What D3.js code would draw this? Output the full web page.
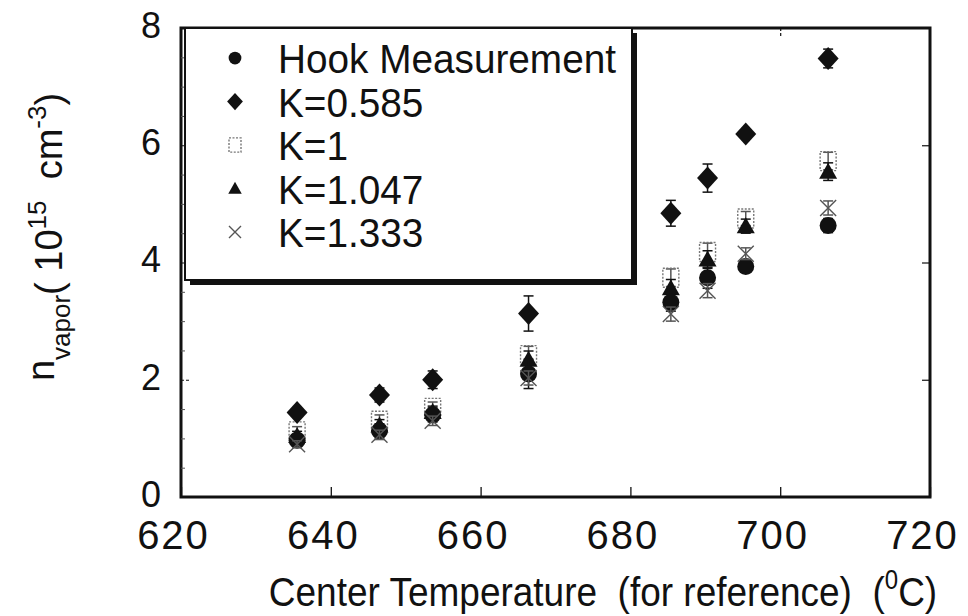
<!DOCTYPE html>
<html><head><meta charset="utf-8">
<script src="https://cdn.jsdelivr.net/npm/d3@7"></script>
<style>
body{margin:0;background:#fff}
svg{font-family:"Liberation Sans",Arial,Helvetica,sans-serif}
</style>
</head><body><svg id="c" width="968" height="616"></svg>
<script>
// ---- data ----
const temps = [635.5, 646.5, 653.6, 666.4, 685.4, 690.3, 695.4, 706.4];
const hook = [0.97, 1.13, 1.40, 2.10, 3.32, 3.74, 3.93, 4.63];
const hookErr = [0.10, 0.12, 0.12, 0.25, 0.15, 0.18, 0.10, 0.12];
const k0585 = [1.44, 1.74, 2.00, 3.13, 4.84, 5.44, 6.19, 7.48];
const k0585Err = [0.08, 0.12, 0.15, 0.30, 0.22, 0.24, 0.06, 0.16];
const k1 = [1.12, 1.30, 1.52, 2.42, 3.74, 4.18, 4.75, 5.73];
const k1Err = [0.08, 0.10, 0.10, 0.15, 0.15, 0.15, 0.12, 0.15];
const k1047 = [1.04, 1.22, 1.45, 2.34, 3.56, 4.05, 4.62, 5.55];
const k1047Err = [0.08, 0.10, 0.10, 0.15, 0.15, 0.15, 0.12, 0.15];
const k1333 = [0.90, 1.06, 1.30, 2.03, 3.12, 3.52, 4.15, 4.93];
const k1333Err = [0.06, 0.08, 0.08, 0.12, 0.12, 0.12, 0.10, 0.12];
const xTicks = [620, 640, 660, 680, 700, 720];
const yTicks = [0, 2, 4, 6, 8];
const yMinor = [0.5,1,1.5,2.5,3,3.5,4.5,5,5.5,6.5,7,7.5];
const legendLabels = ["Hook Measurement", "K=0.585", "K=1", "K=1.047", "K=1.333"];

// ---- layout ----
const m = {l:181, r:930, t:28, b:497};
const x = d3.scaleLinear().domain([620,720]).range([m.l, m.r]);
const y = d3.scaleLinear().domain([0,8]).range([m.b, m.t]);
const svg = d3.select("#c");
const ink = "#111";

// frame
svg.append("rect").attr("x",m.l).attr("y",m.t).attr("width",m.r-m.l).attr("height",m.b-m.t)
  .attr("fill","none").attr("stroke",ink).attr("stroke-width",3);

// axes
const gx = svg.append("g").attr("transform",`translate(0,${m.b})`)
  .call(d3.axisBottom(x).tickValues(xTicks).tickSizeInner(-10).tickSizeOuter(0).tickPadding(24).tickFormat(d3.format("d")));
gx.select(".domain").remove();
gx.selectAll("line").attr("stroke",ink).attr("stroke-width",1.3);
gx.selectAll("text").attr("font-size",40).attr("fill",ink).attr("dx",-8).attr("letter-spacing",2)
  .attr("font-family","Liberation Sans, Arial, sans-serif");

const gxt = svg.append("g").attr("transform",`translate(0,${m.t})`)
  .call(d3.axisTop(x).tickValues(xTicks.slice(1,-1)).tickSizeInner(-8).tickSizeOuter(0).tickFormat(""));
gxt.select(".domain").remove();
gxt.selectAll("line").attr("stroke",ink).attr("stroke-width",1.2).attr("stroke-dasharray","3 2");

const gy = svg.append("g").attr("transform",`translate(${m.l},0)`)
  .call(d3.axisLeft(y).tickValues(yTicks).tickSizeInner(-10).tickSizeOuter(0).tickPadding(20).tickFormat(d3.format("d")));
gy.select(".domain").remove();
gy.selectAll("line").attr("stroke",ink).attr("stroke-width",1.2).attr("stroke-dasharray","3 2");
gy.selectAll("text").attr("font-size",36).attr("fill",ink).attr("dy","0.26em")
  .attr("font-family","Liberation Sans, Arial, sans-serif");

const gym = svg.append("g").attr("transform",`translate(${m.l},0)`)
  .call(d3.axisLeft(y).tickValues(yMinor).tickSizeInner(-4).tickSizeOuter(0).tickFormat(""));
gym.select(".domain").remove();
gym.selectAll("line").attr("stroke","#555").attr("stroke-width",1);

const gyr = svg.append("g").attr("transform",`translate(${m.r},0)`)
  .call(d3.axisRight(y).tickValues(yTicks.slice(1,-1)).tickSizeInner(-8).tickSizeOuter(0).tickFormat(""));
gyr.select(".domain").remove();
gyr.selectAll("line").attr("stroke",ink).attr("stroke-width",1.2);

// axis titles
const xt = svg.append("text").attr("transform","translate(603,606) scale(1,1.12)").attr("text-anchor","middle")
  .attr("font-size",37).attr("fill",ink).style("white-space","pre");
xt.append("tspan").text("Center Temperature  (for reference)  (");
xt.append("tspan").attr("font-size",24).attr("dy",-15).text("0");
xt.append("tspan").attr("dy",15).text("C)");

const yt = svg.append("text").attr("transform","translate(62,237) rotate(-90)").attr("text-anchor","middle")
  .attr("font-size",38).attr("fill",ink).style("white-space","pre");
yt.append("tspan").attr("dy",-8).text("n");
yt.append("tspan").attr("font-size",26).attr("dy",16).text("vapor");
yt.append("tspan").attr("dy",-8).text("( 10");
yt.append("tspan").attr("font-size",26).attr("dy",-16).text("15");
yt.append("tspan").attr("dy",16).text("  cm");
yt.append("tspan").attr("font-size",26).attr("dy",-16).text("-3");
yt.append("tspan").attr("dy",16).text(")");

// ---- marker shapes ----
function drawMarker(g, type, s) {
  if (type === "circle") {
    g.append("circle").attr("r", 8.5*s).attr("fill", ink);
  } else if (type === "diamond") {
    g.append("path").attr("d", `M0,${-11.5*s}L${10.5*s},0L0,${11.5*s}L${-10.5*s},0Z`).attr("fill", ink);
  } else if (type === "square") {
    g.append("rect").attr("x",-8*s).attr("y",-9.5*s).attr("width",16*s).attr("height",19*s)
      .attr("fill","none").attr("stroke","#777").attr("stroke-width",1.4).attr("stroke-dasharray","2 1.5");
  } else if (type === "triangle") {
    g.append("path").attr("d", `M0,${-9*s}L${9*s},${7*s}L${-9*s},${7*s}Z`).attr("fill", ink);
  } else if (type === "x") {
    g.append("path").attr("d", `M${-8*s},${-8*s}L${8*s},${8*s}M${8*s},${-8*s}L${-8*s},${8*s}`)
      .attr("stroke","#555").attr("stroke-width",1.4).attr("fill","none");
  }
}

const series = [
  {vals:k1, err:k1Err, type:"square", ec:"#555"},
  {vals:k1047, err:k1047Err, type:"triangle", ec:ink},
  {vals:hook, err:hookErr, type:"circle", ec:ink},
  {vals:k1333, err:k1333Err, type:"x", ec:"#555"},
  {vals:k0585, err:k0585Err, type:"diamond", ec:ink}
];

series.forEach(s => {
  const data = temps.map((t,i) => ({t, v:s.vals[i], e:s.err[i]}));
  const g = svg.append("g");
  const eb = g.selectAll(".eb").data(data).enter().append("g")
    .attr("stroke", s.ec).attr("stroke-width",1.5);
  eb.append("line").attr("x1",d=>x(d.t)).attr("x2",d=>x(d.t)).attr("y1",d=>y(d.v-d.e)).attr("y2",d=>y(d.v+d.e));
  eb.append("line").attr("x1",d=>x(d.t)-5).attr("x2",d=>x(d.t)+5).attr("y1",d=>y(d.v-d.e)).attr("y2",d=>y(d.v-d.e));
  eb.append("line").attr("x1",d=>x(d.t)-5).attr("x2",d=>x(d.t)+5).attr("y1",d=>y(d.v+d.e)).attr("y2",d=>y(d.v+d.e));
  g.selectAll(".mk").data(data).enter().append("g")
    .attr("transform", d => `translate(${x(d.t)},${y(d.v)})`)
    .each(function(){ drawMarker(d3.select(this), s.type, 1); });
});

// ---- legend ----
const lg = svg.append("g");
lg.append("rect").attr("x",190).attr("y",33).attr("width",447).attr("height",252).attr("fill",ink);
lg.append("rect").attr("x",185).attr("y",28).attr("width",447).attr("height",252)
  .attr("fill","#fff").attr("stroke",ink).attr("stroke-width",2);
const legTypes = ["circle","diamond","square","triangle","x"];
legendLabels.forEach((lab,i) => {
  const cy = 58 + i*43.5;
  const mg = lg.append("g").attr("transform",`translate(235,${cy})`);
  drawMarker(mg, legTypes[i], 0.75);
  lg.append("text").attr("transform",`translate(278,${cy+15}) scale(0.945,1)`)
    .attr("font-size",41).attr("fill",ink).text(lab);
});
</script>
</body></html>
